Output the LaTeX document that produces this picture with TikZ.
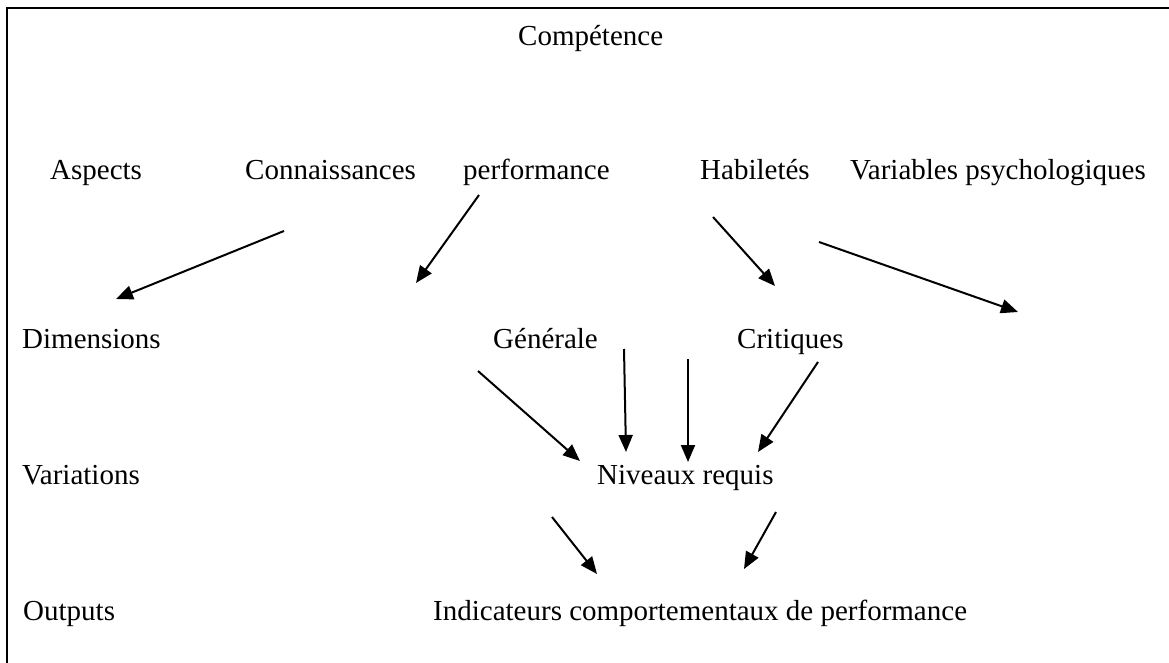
\documentclass[tikz,border=0pt]{standalone}
\usepackage{fontspec}
\setmainfont{Liberation Serif}
\usetikzlibrary{arrows.meta}
\begin{document}
\begin{tikzpicture}[x=1pt,y=-1pt,
  lbl/.style={anchor=base west,inner sep=0pt,font=\fontsize{29}{34}\selectfont},
  arr/.style={line width=2pt,-{Triangle[length=17pt,width=14pt]}},
  frame/.style={line width=2.2pt}]
\useasboundingbox (0,0) rectangle (1169,663);
\draw[frame] (7,663) -- (7,8) -- (1169,8);
% texts
\node[lbl] (comp) at (518,46) {Compétence};
\node[lbl] (asp) at (50,180) {Aspects};
\node[lbl] (conn) at (245,180) {Connaissances};
\node[lbl] (perf) at (463,180) {performance};
\node[lbl] (hab) at (700,180) {Habiletés};
\node[lbl] (var) at (850,180) {Variables psychologiques};
\node[lbl] (dim) at (22,348) {Dimensions};
\node[lbl] (gen) at (493,348) {Générale};
\node[lbl] (crit) at (737,348) {Critiques};
\node[lbl] (vari) at (22,484) {Variations};
\node[lbl] (niv) at (597,484) {Niveaux requis};
\node[lbl] (out) at (23,620) {Outputs};
\node[lbl] (ind) at (433,620) {Indicateurs comportementaux de performance};
% arrow ends
\coordinate (a1s) at (284,231); \coordinate (a1e) at (116,299);
\coordinate (a2s) at (479,195); \coordinate (a2e) at (416,283);
\coordinate (a3s) at (713,217); \coordinate (a3e) at (775,286);
\coordinate (a4s) at (819,242); \coordinate (a4e) at (1018,312);
\coordinate (a5s) at (478,371); \coordinate (a5e) at (580,461);
\coordinate (a6s) at (624,349); \coordinate (a6e) at (626,452);
\coordinate (a7s) at (688,359); \coordinate (a7e) at (688,462);
\coordinate (a8s) at (818,362); \coordinate (a8e) at (758,452);
\coordinate (a9s) at (552,517); \coordinate (a9e) at (597,574);
\coordinate (a10s) at (776,512); \coordinate (a10e) at (744,569);
\draw[arr] (a1s) -- (a1e);
\draw[arr] (a2s) -- (a2e);
\draw[arr] (a3s) -- (a3e);
\draw[arr] (a4s) -- (a4e);
\draw[arr] (a5s) -- (a5e);
\draw[arr] (a6s) -- (a6e);
\draw[arr] (a7s) -- (a7e);
\draw[arr] (a8s) -- (a8e);
\draw[arr] (a9s) -- (a9e);
\draw[arr] (a10s) -- (a10e);
\end{tikzpicture}
\end{document}
